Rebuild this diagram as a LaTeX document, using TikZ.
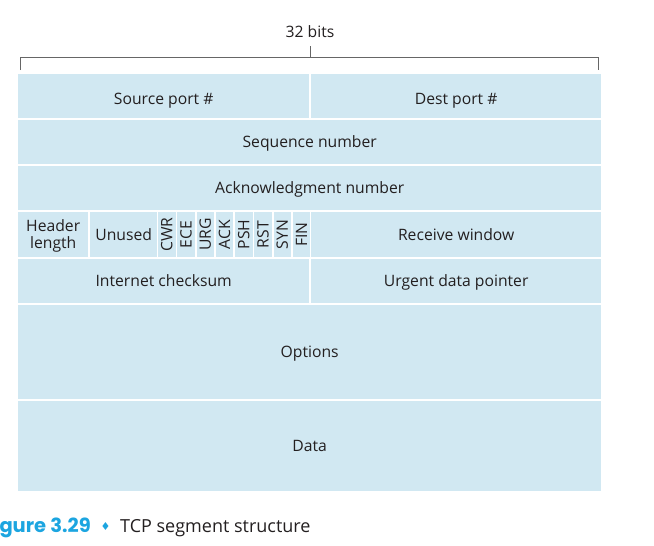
\documentclass[tikz,border=0pt]{standalone}
\usepackage{fontspec}
\setmainfont{Open Sans}
\newfontfamily\symfont{DejaVu Sans}
\newfontfamily\figfont{Poppins}
\definecolor{fieldblue}{HTML}{D1E8F2}
\definecolor{figcyan}{HTML}{1CA5E0}
\definecolor{inkgray}{HTML}{231F20}
\definecolor{rulegray}{HTML}{666666}
\tikzset{
	label/.style={inner sep=0pt,text=inkgray,align=center,font=\fontsize{15.7}{17}\selectfont,text height=11.2pt,text depth=0pt},
	cell/.style={label,fill=fieldblue},
	field/.style={cell,anchor=north west},
	flagbox/.style={cell,rotate=90,minimum width=45pt,minimum height=17.5pt}
}
\begin{document}
\begin{tikzpicture}[x=1pt,y=-1pt]
		\useasboundingbox (0,0) rectangle (654,546);
		\clip (0,0) rectangle (654,546);
		\node[label] (bits) at (310,32) {32 bits};
		\coordinate (bl) at (20,70);
		\coordinate (br) at (598,70);
		\coordinate (bc) at (310,57);
		\coordinate (bt) at (310,46);
		\draw[rulegray,line width=0.8pt] (bl) -- (bl |- bc) -- (br |- bc) -- (br);
		\draw[rulegray,line width=0.8pt] (bc) -- (bt);
		\node[field,minimum width=291pt,minimum height=44pt,text height=17.2pt] (src) at (18,74) {Source port \#};
		\node[field,minimum width=290pt,minimum height=44pt,text height=17.2pt] (dst) at (311,74) {Dest port \#};
		\node[field,minimum width=583pt,minimum height=44pt] (seq) at (18,120) {Sequence number};
		\node[field,minimum width=583pt,minimum height=44pt] (ack) at (18,166) {Acknowledgment number};
		\node[field,minimum width=70pt,minimum height=45pt,text height=28.2pt] (hlen) at (18,212) {Header\\length};
		\node[field,minimum width=67pt,minimum height=45pt] (unused) at (90,212) {Unused};
		\foreach \flag [count=\i from 0] in {CWR,ECE,URG,ACK,PSH,RST,SYN,FIN}
			\node[flagbox] (\flag) at (166.75+19.25*\i,234.5) {\flag};
		\node[field,minimum width=290pt,minimum height=45pt] (rwnd) at (311,212) {Receive window};
		\node[field,minimum width=291pt,minimum height=44pt] (csum) at (18,259) {Internet checksum};
		\node[field,minimum width=290pt,minimum height=44pt] (urg) at (311,259) {Urgent data pointer};
		\node[field,minimum width=583pt,minimum height=94pt] (opts) at (18,305) {Options};
		\node[field,minimum width=583pt,minimum height=90pt] (data) at (18,401) {Data};
		\node[anchor=base east,inner sep=0pt,text=figcyan,font=\figfont\bfseries\fontsize{19.5}{22}\selectfont] (fignum) at (91,532) {Figure 3.29};
		\node[anchor=base,inner sep=0pt,text=figcyan,font=\symfont\fontsize{11}{14}\selectfont] (dia) at (105.5,530) {♦};
		\node[anchor=base west,inner sep=0pt,text=inkgray,font=\fontsize{18}{20}\selectfont] (figcap) at (120,532) {TCP segment structure};
	\end{tikzpicture}
\end{document}
